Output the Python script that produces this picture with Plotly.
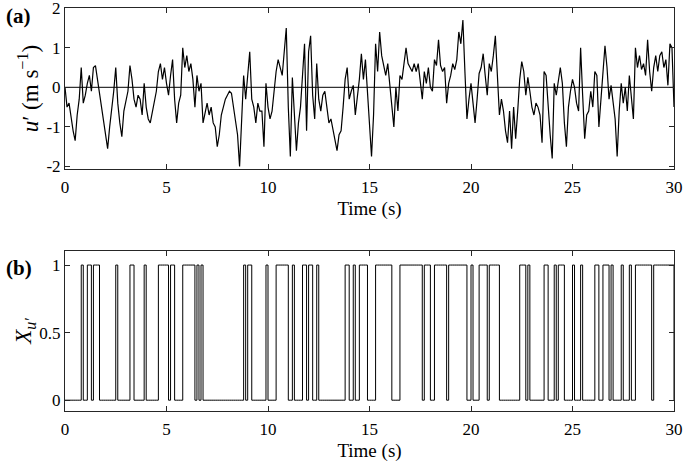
import numpy as np
import plotly.graph_objects as go

# sampling: one value every 0.1 s
t_step = 0.1

u_00_05 = [0.0, -0.5, -0.4, -0.8, -1.1, -1.35, -0.7, -0.3, 0.5, -0.4,
           -0.2, 0.1, 0.3, -0.1, 0.5, 0.55, 0.2, -0.1, -0.5, -0.8,
           -1.2, -1.55, -1.0, -0.6, -0.1, 0.5, -0.4, -0.9, -1.25, -0.6,
           -0.3, -0.1, 0.55, 0.2, -0.3, -0.5, -0.2, -0.3, -0.7, 0.1,
           -0.5, -0.8, -0.9, -0.6, -0.4, -0.1, 0.4, 0.6, 0.2, 0.5]
u_05_10 = [0.1, -0.2, 0.3, 0.7, -0.3, -0.9, -0.4, -0.2, 1.0, 0.5,
           0.8, 0.4, 0.6, 0.2, -0.5, 0.3, -0.1, 0.1, -0.9, -0.6,
           -0.4, -0.7, -0.5, -0.9, -1.0, -1.5, -1.2, -0.7, -0.5, -0.3,
           -0.2, -0.1, -0.15, -0.5, -0.9, -1.2, -2.0, -0.8, 0.3, -0.3,
           0.4, 0.9, -0.3, -0.5, -0.9, -0.4, -0.6, -0.6, -1.5, 0.1]
u_10_15 = [-0.5, -0.8, -0.6, 0.0, 0.4, 0.7, 0.5, 0.3, 0.9, 1.5,
           -0.5, -1.75, 0.25, -0.6, -1.6, -0.9, -0.5, 0.3, 1.1, -1.1,
           0.9, 1.3, -0.2, -0.8, 0.6, -0.3, -0.6, -0.2, -0.1, -0.5,
           -0.9, -0.8, -1.1, -1.3, -1.6, -1.2, -1.1, -0.5, 0.2, 0.5,
           -0.3, -0.1, 0.05, -0.7, -0.3, 0.2, 0.85, 0.2, 0.7, -0.1]
u_15_20 = [-0.8, -1.75, -0.7, 1.1, 0.4, 1.4, 0.8, 0.5, 0.3, 0.6,
           0.1, -0.4, -1.0, 0.0, -0.6, 0.3, 0.2, 0.6, 1.0, 0.6,
           0.5, 0.4, 0.6, 0.4, 0.6, 0.1, -0.3, 0.4, 0.1, 0.5,
           0.0, -0.1, 0.7, 0.55, 1.2, 0.55, 0.4, 0.5, -0.4, 0.1,
           0.3, 0.6, 0.45, 0.7, 1.4, 1.1, 1.7, 0.4, -0.8, -0.3]
u_20_25 = [0.1, -0.4, -0.9, -0.3, 0.35, 0.5, 0.85, 0.3, -0.2, 0.6,
           0.4, 0.8, 1.3, 0.3, -0.7, -0.3, -0.6, -1.1, -1.4, -0.6,
           -1.55, -0.5, -1.3, -0.6, 0.2, 0.65, 0.4, -0.2, 0.25, -0.1,
           -0.5, -0.7, -0.4, -0.5, -0.7, -1.4, 0.4, 0.3, -0.5, -1.2,
           -1.8, 0.1, -0.2, 0.2, 0.5, 0.1, -0.9, -1.5, -0.5, -0.1]
u_25_30 = [0.2, 0.0, -0.4, -0.6, 1.0, -0.2, -1.3, -0.7, -0.6, -0.1,
           -0.5, 0.4, 0.3, -1.0, -0.3, 0.4, 1.05, 0.5, -0.3, 0.05,
           -0.4, -0.8, -1.75, -0.6, 0.1, -0.4, 0.0, -0.6, 0.3, -0.3,
           -0.8, 1.0, 0.5, 0.8, 0.45, 0.6, 0.3, 1.2, 0.4, -0.1,
           0.5, 0.8, 0.4, 0.8, 0.9, 0.5, 0.7, 0.05, 1.1, 1.0,
           -0.5]

x_ticks = [0, 5, 10, 15, 20, 25, 30]
ya_ticks = [-2, -1, 0, 1, 2]
ya_labels = ["-2", "-1", "0", "1", "2"]
yb_ticks = [0, 0.5, 1]
yb_labels = ["0", "0.5", "1"]

u = np.array(u_00_05 + u_05_10 + u_10_15 + u_15_20 + u_20_25 + u_25_30)
t = np.arange(len(u)) * t_step
X = (u > 0).astype(int)

FONT = "Times New Roman, Liberation Serif, DejaVu Serif, serif"
AX = "#262626"

fig = go.Figure()
fig.add_trace(go.Scatter(x=t, y=u, mode="lines", line=dict(color="black", width=1.2),
                         xaxis="x", yaxis="y", showlegend=False))
fig.add_trace(go.Scatter(x=[0, 30], y=[0, 0], mode="lines", line=dict(color="black", width=1),
                         xaxis="x", yaxis="y", showlegend=False))
fig.add_trace(go.Scatter(x=t, y=X, mode="lines", line=dict(color="black", width=1, shape="hv"),
                         xaxis="x2", yaxis="y2", showlegend=False))

axis_common = dict(showline=True, linecolor=AX, linewidth=1, mirror="ticks",
                   ticks="inside", ticklen=5, tickcolor=AX, tickwidth=1,
                   showgrid=False, zeroline=False, automargin=False,
                   ticklabeloverflow="allow",
                   tickfont=dict(family=FONT, size=17, color="black"))

W, H = 685, 468
ML, MR, MT, MB = 65, 11, 8, 57

fig.update_layout(
    width=W, height=H,
    margin=dict(l=ML, r=MR, t=MT, b=MB),
    plot_bgcolor="white", paper_bgcolor="white",
    font=dict(family=FONT, size=17, color="black"),
    xaxis=dict(domain=[0, 1], anchor="y", range=[0, 30], tickvals=x_ticks,
               ticklabelstandoff=3,
               title=dict(text="Time (s)", standoff=5, font=dict(family=FONT, size=19)),
               **axis_common),
    yaxis=dict(domain=[0.6005, 1], anchor="x", range=[-2.065, 2.005], tickvals=ya_ticks,
               ticktext=ya_labels,
               title=dict(text="<i>u</i>′ (m s<sup>−1</sup>)", standoff=1,
                          font=dict(family=FONT, size=23)),
               **axis_common),
    xaxis2=dict(domain=[0, 1], anchor="y2", range=[0, 30], tickvals=x_ticks,
                ticklabelstandoff=3,
                title=dict(text="Time (s)", standoff=5, font=dict(family=FONT, size=19)),
                **axis_common),
    yaxis2=dict(domain=[0, 0.397], anchor="x2", range=[-0.08, 1.104], tickvals=yb_ticks,
                ticktext=yb_labels,
                title=dict(text="<i>X<sub>u′</sub></i>", standoff=1,
                           font=dict(family=FONT, size=23)),
                **axis_common),
)

pw, ph = W - ML - MR, H - MT - MB
for label, (px, py) in [("<b>(a)</b>", (4, 16)), ("<b>(b)</b>", (4, 268))]:
    fig.add_annotation(text=label, x=(px - ML) / pw, y=(H - MB - py) / ph,
                       xref="paper", yref="paper", xanchor="left", yanchor="middle",
                       showarrow=False, font=dict(family=FONT, size=21, color="black"))

fig.write_html("out.html", config={"displayModeBar": False},
               post_script="document.body.style.margin='0';")
